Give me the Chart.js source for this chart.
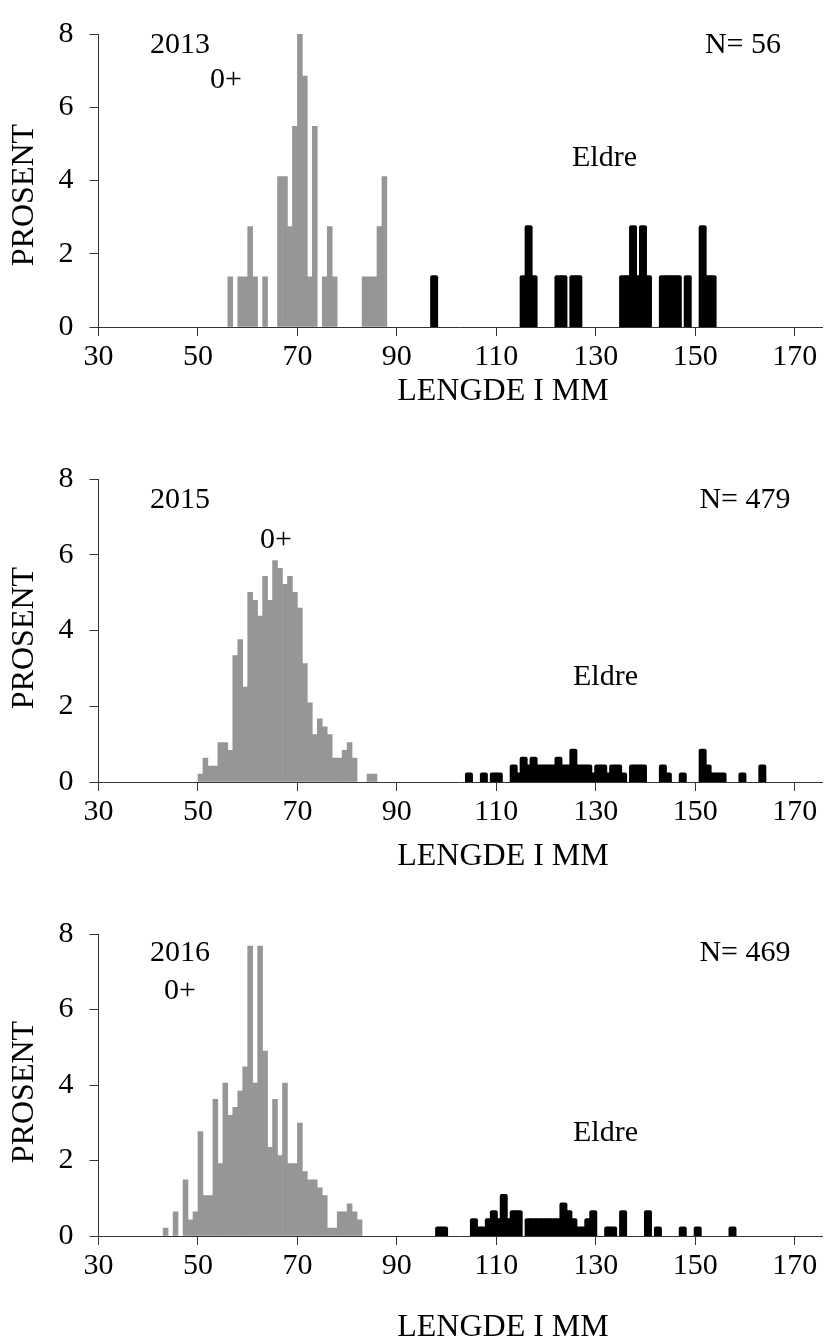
<!DOCTYPE html>
<html>
<head>
<meta charset="utf-8">
<script src="https://cdn.jsdelivr.net/npm/chart.js@4"></script>
<style>
  html, body { margin: 0; padding: 0; background: #fff; }
  #wrap { position: relative; width: 824px; height: 1342px; }
  canvas { position: absolute; left: 0; }
</style>
</head>
<body>
<div id="wrap">
  <canvas id="c2013" width="824" height="420" style="top:0px"></canvas>
  <canvas id="c2015" width="824" height="440" style="top:440px"></canvas>
  <canvas id="c2016" width="824" height="442" style="top:900px"></canvas>
</div>
<script>
// lengde (mm, start of 1 mm class) and prosent
const xTicks = [30, 50, 70, 90, 110, 130, 150, 170];
const yTicks = [0, 2, 4, 6, 8];

// 2013
const young2013Len = [56, 58, 59, 60, 61, 63, 66, 67, 68, 69, 70, 71, 72, 73, 75, 76, 77, 83, 84, 85, 86, 87];
const young2013Pct = [1.37, 1.37, 1.37, 2.74, 1.37, 1.37, 4.11, 4.11, 2.74, 5.48, 8.22, 6.85, 1.37, 5.48, 1.37, 2.74, 1.37, 1.37, 1.37, 1.37, 2.74, 4.11];
const old2013Len = [97, 115, 116, 117, 122, 123, 125, 126, 135, 136, 137, 138, 139, 140, 143, 144, 145, 146, 148, 151, 152, 153];
const old2013Pct = [1.37, 1.37, 2.74, 1.37, 1.37, 1.37, 1.37, 1.37, 1.37, 1.37, 2.74, 1.37, 2.74, 1.37, 1.37, 1.37, 1.37, 1.37, 1.37, 2.74, 1.37, 1.37];

// 2015
const young2015Len = [50, 51, 52, 53, 54, 55, 56, 57, 58, 59, 60, 61, 62, 63, 64, 65, 66, 67, 68, 69, 70, 71, 72, 73, 74, 75, 76, 77, 78, 79, 80, 81, 84, 85];
const young2015Pct = [0.21, 0.63, 0.42, 0.42, 1.04, 1.04, 0.84, 3.34, 3.76, 2.51, 5.01, 4.80, 4.38, 5.43, 4.80, 5.85, 5.64, 5.22, 5.43, 5.01, 4.59, 3.13, 2.09, 1.25, 1.67, 1.46, 1.25, 0.63, 0.63, 0.84, 1.04, 0.63, 0.21, 0.21];
const old2015Len = [104, 107, 109, 110, 113, 114, 115, 116, 117, 118, 119, 120, 121, 122, 123, 124, 125, 126, 127, 128, 129, 130, 131, 132, 133, 134, 135, 137, 138, 139, 143, 144, 147, 151, 152, 153, 154, 155, 159, 163];
const old2015Pct = [0.21, 0.21, 0.21, 0.21, 0.42, 0.21, 0.63, 0.42, 0.63, 0.42, 0.42, 0.42, 0.42, 0.63, 0.42, 0.42, 0.84, 0.42, 0.42, 0.42, 0.21, 0.42, 0.42, 0.21, 0.42, 0.42, 0.21, 0.42, 0.42, 0.42, 0.42, 0.21, 0.21, 0.84, 0.42, 0.21, 0.21, 0.21, 0.21, 0.42];

// 2016
const young2016Len = [43, 45, 47, 48, 49, 50, 51, 52, 53, 54, 55, 56, 57, 58, 59, 60, 61, 62, 63, 64, 65, 66, 67, 68, 69, 70, 71, 72, 73, 74, 75, 76, 77, 78, 79, 80, 81, 82];
const young2016Pct = [0.21, 0.64, 1.49, 0.43, 0.64, 2.77, 1.07, 1.07, 3.62, 1.92, 4.05, 3.20, 3.41, 3.84, 4.48, 7.68, 4.05, 7.68, 4.90, 2.35, 3.62, 2.13, 4.05, 1.92, 1.92, 2.99, 1.71, 1.49, 1.49, 1.28, 1.07, 0.21, 0.21, 0.64, 0.64, 0.85, 0.64, 0.43];
const old2016Len = [98, 99, 105, 106, 107, 108, 109, 110, 111, 112, 113, 114, 116, 117, 118, 119, 120, 121, 122, 123, 124, 125, 126, 127, 128, 129, 132, 133, 135, 140, 142, 147, 150, 157];
const old2016Pct = [0.21, 0.21, 0.43, 0.21, 0.21, 0.43, 0.64, 0.43, 1.07, 0.43, 0.64, 0.64, 0.43, 0.43, 0.43, 0.43, 0.43, 0.43, 0.43, 0.85, 0.64, 0.43, 0.21, 0.21, 0.43, 0.64, 0.21, 0.21, 0.64, 0.64, 0.21, 0.21, 0.21, 0.21];

Chart.defaults.font.family = '"Liberation Serif", "Times New Roman", serif';
Chart.defaults.color = '#000';

// draws axis titles and the year, 0+, N= and Eldre labels
const notesPlugin = {
    id: 'notes',
    afterDraw(chart, args, opts) {
        const ctx = chart.ctx;
        opts.items.forEach(it => {
            ctx.save();
            ctx.fillStyle = '#000';
            ctx.font = (it.size || 30) + 'px "Liberation Serif"';
            ctx.textBaseline = 'middle';
            ctx.textAlign = it.align || 'left';
            ctx.translate(it.x, it.y);
            if (it.rotate) ctx.rotate(it.rotate);
            ctx.fillText(it.text, 0, 0);
            ctx.restore();
        });
    }
};

function toPoints(len, pct) {
    return len.map((v, i) => ({ x: v + 0.5, y: pct[i] }));
}

function makePanel(id, youngLen, youngPct, oldLen, oldPct, notes, lay) {
    const ctx = document.getElementById(id).getContext('2d');
    const axisTitles = [
        { text: 'LENGDE I MM', x: 503, y: lay.xTitleY, size: 32, align: 'center' },
        { text: 'PROSENT', x: 25, y: lay.yTitleY, size: 32, align: 'center', rotate: -Math.PI / 2 }
    ];
    return new Chart(ctx, {
        type: 'bar',
        data: {
            datasets: [{
                label: '0+',
                data: toPoints(youngLen, youngPct),
                backgroundColor: '#969696',
                grouped: false,
                barPercentage: 1,
                categoryPercentage: 1,
                inflateAmount: 0.3
            }, {
                label: 'Eldre',
                data: toPoints(oldLen, oldPct),
                backgroundColor: '#000',
                grouped: false,
                barPercentage: 1,
                categoryPercentage: 1,
                inflateAmount: 1.5,
                borderRadius: 2
            }]
        },
        options: {
            responsive: false,
            animation: false,
            layout: { padding: { top: lay.top, right: 2, bottom: 0, left: 0 } },
            plugins: {
                legend: { display: false },
                tooltip: { enabled: false },
                notes: { items: notes.concat(axisTitles) }
            },
            scales: {
                x: {
                    type: 'linear',
                    min: 30,
                    max: 175.5,
                    offset: false,
                    afterBuildTicks: s => { s.ticks = xTicks.map(v => ({ value: v })); },
                    afterFit: s => { s.height = lay.xHeight; },
                    grid: { offset: false, drawOnChartArea: false, drawTicks: true, tickLength: 9, color: '#333' },
                    border: { color: '#333' },
                    ticks: { font: { size: 30 }, padding: 3, maxRotation: 0, autoSkip: false }
                },
                y: {
                    min: 0,
                    max: 8,
                    afterBuildTicks: s => { s.ticks = yTicks.map(v => ({ value: v })); },
                    afterFit: s => { s.width = 98.5; },
                    grid: { offset: false, drawOnChartArea: false, drawTicks: true, tickLength: 9, color: '#333' },
                    border: { color: '#333' },
                    ticks: { font: { size: 30 }, padding: 16 }
                }
            }
        },
        plugins: [notesPlugin]
    });
}

makePanel('c2013', young2013Len, young2013Pct, old2013Len, old2013Pct, [
    { text: '2013', x: 150, y: 45 },
    { text: '0+', x: 210, y: 80 },
    { text: 'N= 56', x: 743, y: 45, align: 'center' },
    { text: 'Eldre', x: 572, y: 158 }
], { top: 24, xHeight: 93, xTitleY: 392, yTitleY: 195 });

makePanel('c2015', young2015Len, young2015Pct, old2015Len, old2015Pct, [
    { text: '2015', x: 150, y: 60 },
    { text: '0+', x: 260, y: 100 },
    { text: 'N= 479', x: 745, y: 60, align: 'center' },
    { text: 'Eldre', x: 573, y: 237 }
], { top: 39, xHeight: 98, xTitleY: 417, yTitleY: 198 });

makePanel('c2016', young2016Len, young2016Pct, old2016Len, old2016Pct, [
    { text: '2016', x: 150, y: 53 },
    { text: '0+', x: 164, y: 91 },
    { text: 'N= 469', x: 745, y: 53, align: 'center' },
    { text: 'Eldre', x: 573, y: 233 }
], { top: 33, xHeight: 106, xTitleY: 428, yTitleY: 192 });
</script>
</body>
</html>
